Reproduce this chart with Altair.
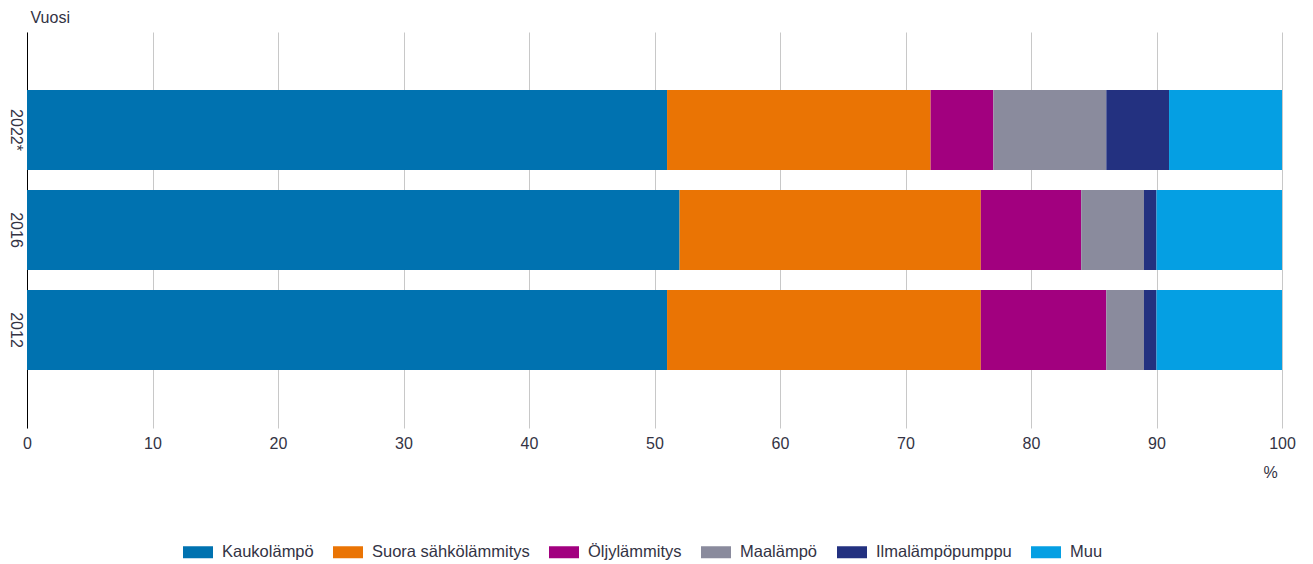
import altair as alt
import pandas as pd

years = ["2022*", "2016", "2012"]
categories = ["Kaukolämpö", "Suora sähkölämmitys", "Öljylämmitys", "Maalämpö", "Ilmalämpöpumppu", "Muu"]
colors = ["#0072b0", "#ea7404", "#a2007f", "#8a8b9d", "#233180", "#059fe3"]

kaukolampo = [51, 52, 51]
suora = [21, 24, 25]
oljy = [5, 8, 10]
maalampo = [9, 5, 3]
ilmalampo = [5, 1, 1]
muu = [9, 10, 10]

series = [kaukolampo, suora, oljy, maalampo, ilmalampo, muu]
rows = []
for ci, (cat, vals) in enumerate(zip(categories, series)):
    for y, v in zip(years, vals):
        rows.append({"year": y, "category": cat, "value": v, "idx": ci})
df = pd.DataFrame(rows)

FONT = "Liberation Sans"
TXT = "#333344"

chart = alt.Chart(df).mark_bar().encode(
    x=alt.X(
        "value:Q",
        stack="zero",
        scale=alt.Scale(domain=[0, 100], nice=False),
        axis=alt.Axis(
            values=list(range(0, 101, 10)),
            title="%",
            grid=True,
            gridColor="#c8c8c8",
            domain=False,
            ticks=False,
            labelFlush=False,
            labelPadding=7,
            labelFontSize=16,
            labelColor=TXT,
            labelFont=FONT,
            titleFont=FONT,
            titleFontSize=16,
            titleFontWeight="normal",
            titleColor=TXT,
            titleX=1243,
            titleY=44,
            titleAlign="center",
            titleBaseline="middle",
        ),
    ),
    y=alt.Y(
        "year:N",
        sort=years,
        scale=alt.Scale(paddingInner=0.2, paddingOuter=0.58),
        axis=alt.Axis(
            title="Vuosi",
            titleAngle=0,
            titleX=3,
            titleY=-15,
            titleAlign="left",
            titleBaseline="middle",
            titleFont=FONT,
            titleFontSize=16,
            titleFontWeight="normal",
            titleColor=TXT,
            labelAngle=90,
            labelAlign="center",
            labelBaseline="top",
            labelPadding=4,
            labelFontSize=16,
            labelFont=FONT,
            labelColor=TXT,
            domainColor="black",
            domainWidth=1,
            ticks=False,
            grid=False,
        ),
    ),
    color=alt.Color(
        "category:N",
        scale=alt.Scale(domain=categories, range=colors),
        legend=alt.Legend(
            title=None,
            orient="none",
            direction="horizontal",
            legendX=156,
            legendY=505,
            symbolType="M-1,-0.4L1,-0.4L1,0.4L-1,0.4Z",
            symbolSize=900,
            symbolStrokeWidth=0,
            symbolOpacity=1,
            labelFont=FONT,
            labelFontSize=16.5,
            labelColor=TXT,
            labelOffset=9,
            columnPadding=19,
            padding=0,
        ),
    ),
    order=alt.Order("idx:Q"),
).properties(
    width=1255,
    height=396,
    autosize=alt.AutoSizeParams(type="none"),
    padding={"left": 19, "top": 24, "right": 20, "bottom": 136},
).configure_view(strokeWidth=0)

chart.save("out.html", embed_options={"renderer": "svg", "actions": False})
